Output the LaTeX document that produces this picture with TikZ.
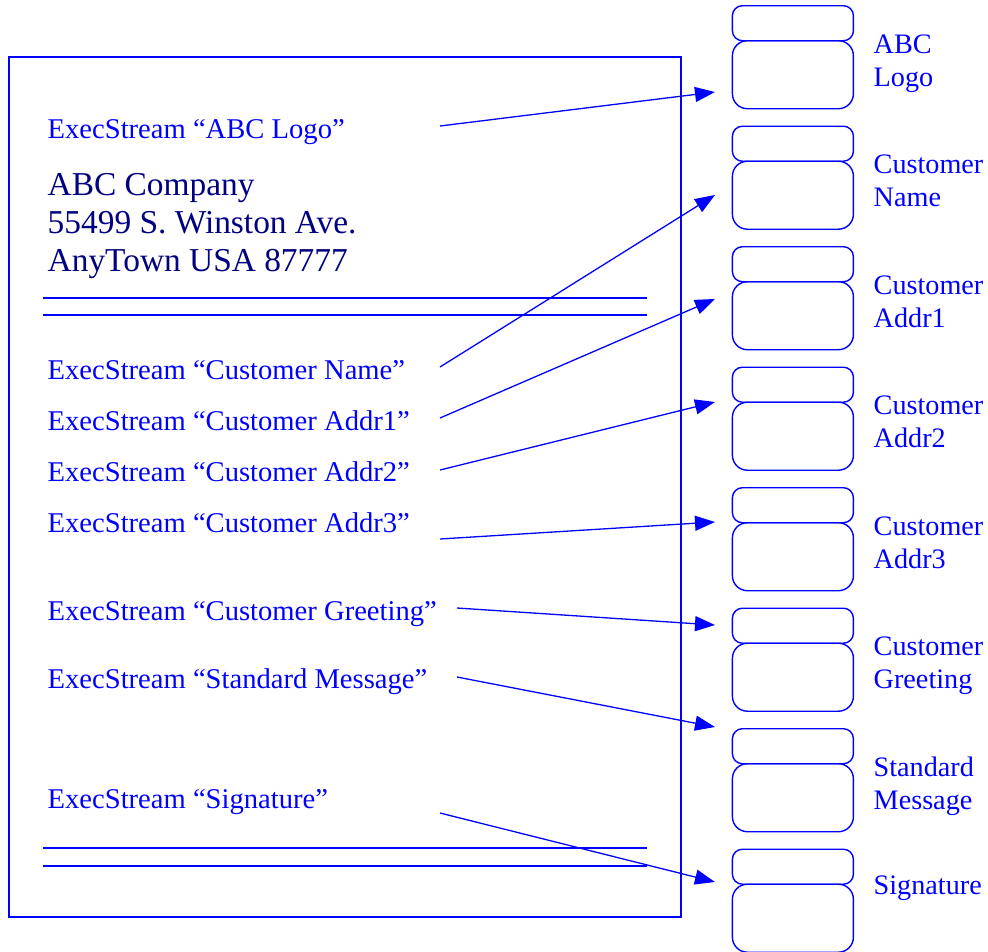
\documentclass[tikz,border=0pt]{standalone}
\usepackage{fontspec}
\setmainfont{Liberation Serif}
\usetikzlibrary{arrows.meta}
\definecolor{linkblue}{RGB}{0,0,255}
\definecolor{addrnavy}{RGB}{0,0,128}
\begin{document}
\begin{tikzpicture}[x=1pt,y=-1pt,line width=1.4pt,
  pageframe/.style={draw=linkblue,line width=1.5pt},
  rule/.style={draw=linkblue,line width=1.3pt},
  streamlabel/.style={anchor=base west,inner sep=0pt,text=linkblue,font=\fontsize{28.6}{33}\selectfont},
  addr/.style={anchor=base west,inner sep=0pt,text=addrnavy,font=\fontsize{33.4}{38.3}\selectfont,align=left},
  tabbox/.style={draw=linkblue,rounded corners=10pt,minimum width=121pt,minimum height=35pt,inner sep=0pt,anchor=north west},
  bodybox/.style={draw=linkblue,rounded corners=15pt,minimum width=121pt,minimum height=68pt,inner sep=0pt,anchor=north west},
  partlabel/.style={anchor=base west,inner sep=0pt,text=linkblue,font=\fontsize{28.2}{33}\selectfont,align=left},
  link/.style={draw=linkblue,line width=1.3pt,-{Triangle[length=20pt,width=15pt]}}
]
\useasboundingbox (0,0) rectangle (988,951);

% the page
\draw[pageframe] (9,57) rectangle (681,917);
\coordinate (pagecorner) at (9,57);

% header and footer rules
\draw[rule] (43,298) -- (647,298);
\draw[rule] (43,315) -- (647,315);
\draw[rule] (43,848) -- (647,848);
\draw[rule] (43,866) -- (647,866);

% letter contents (multi-line nodes sit on their last baseline)
\node[streamlabel] (sLogo) at (47,138) {ExecStream “ABC Logo”};
\node[addr] (address) at (47,271.7) {ABC Company\\55499 S. Winston Ave.\\AnyTown USA 87777};
\node[streamlabel] (sName) at (47,379.3) {ExecStream “Customer Name”};
\node[streamlabel] (sAddrA) at (47,430) {ExecStream “Customer Addr1”};
\node[streamlabel] (sAddrB) at (47,481.7) {ExecStream “Customer Addr2”};
\node[streamlabel] (sAddrC) at (47,532.7) {ExecStream “Customer Addr3”};
\node[streamlabel] (sGreet) at (47,620) {ExecStream “Customer Greeting”};
\node[streamlabel] (sMsg) at (47,688.3) {ExecStream “Standard Message”};
\node[streamlabel] (sSig) at (47,808.3) {ExecStream “Signature”};

% stream modules on the right
\foreach \i/\txt in {0/{ABC\\Logo},1/{Customer\\Name},2/{Customer\\Addr1},3/{Customer\\Addr2},
                     4/{Customer\\Addr3},5/{Customer\\Greeting},6/{Standard\\Message},7/{Signature}}{
  \pgfmathsetmacro{\top}{5+120.5*\i}
  \node[tabbox] (tab\i) at (731.7,\top) {};
  \node[bodybox] (body\i) at (731.7,\top+35) {};
  \ifnum\i=7
    \node[partlabel] (part\i) at (873,\top+45.5) {\txt};
  \else
    \node[partlabel] (part\i) at (873,\top+81) {\txt};
  \fi
}

% connector ends
\coordinate (from0) at (440,126);   \coordinate (to0) at (715,92);
\coordinate (from1) at (440,367);   \coordinate (to1) at (715,195);
\coordinate (from2) at (440,418);   \coordinate (to2) at (715,299);
\coordinate (from3) at (440,470);   \coordinate (to3) at (715,402);
\coordinate (from4) at (440,539);   \coordinate (to4) at (715,522);
\coordinate (from5) at (457,608);   \coordinate (to5) at (715,625);
\coordinate (from6) at (457,677);   \coordinate (to6) at (715,727);
\coordinate (from7) at (440,813);   \coordinate (to7) at (715,882);

\foreach \i in {0,...,7}{
  \draw[link] (from\i) -- (to\i);
}
\end{tikzpicture}
\end{document}
